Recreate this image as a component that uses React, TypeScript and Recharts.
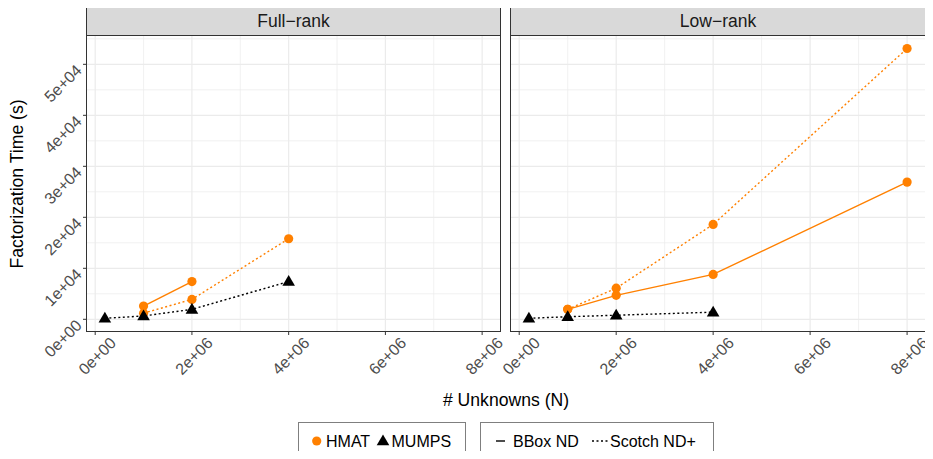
import React from 'react';
import { LineChart, Line, XAxis, YAxis, CartesianGrid } from 'recharts';

// x values (# unknowns)
const unknowns = [2e5, 1e6, 2e6, 4e6, 8e6];

// Full-rank panel
const fullHmatBBox = [null, 2600, 7400, null, null];
const fullHmatScotch = [null, 1200, 3900, 15800, null];
const fullMumpsScotch = [200, 650, 1950, 7400, null];

// Low-rank panel
const lowHmatBBox = [null, 1950, 4700, 8800, 26900];
const lowHmatScotch = [null, 1950, 6100, 18600, 53100];
const lowMumpsScotch = [200, 500, 800, 1400, null];

const xTicks = [0, 2e6, 4e6, 6e6, 8e6];
const xTickLabels = ['0e+00', '2e+06', '4e+06', '6e+06', '8e+06'];
const xMinor = [1e6, 3e6, 5e6, 7e6];
const yTicks = [0, 1e4, 2e4, 3e4, 4e4, 5e4];
const yTickLabels = ['0e+00', '1e+04', '2e+04', '3e+04', '4e+04', '5e+04'];
const yMinor = [5e3, 1.5e4, 2.5e4, 3.5e4, 4.5e4, 5.5e4];

const ORANGE = '#FF8000';
const FONT = '"Liberation Sans", Arial, Helvetica, sans-serif';
const X_DOMAIN = [-190000, 8390000];
const Y_DOMAIN = [-2490, 55750];
const PLOT_TOP = 35;
const PLOT_H = 297;

const XTick = ({ x, y, payload }: any) => {
  const i = xTicks.indexOf(payload.value);
  return (
    <text
      transform={`translate(${x + 2},${y + 19}) rotate(-45)`}
      textAnchor="middle"
      dy="0.35em"
      fontSize={16}
      fill="#4d4d4d"
      fontFamily={FONT}
    >
      {xTickLabels[i]}
    </text>
  );
};

const YTick = ({ x, y, payload }: any) => {
  const i = yTicks.indexOf(payload.value);
  return (
    <text
      transform={`translate(${x - 18},${y + 19}) rotate(-45)`}
      textAnchor="middle"
      dy="0.35em"
      fontSize={16}
      fill="#4d4d4d"
      fontFamily={FONT}
    >
      {yTickLabels[i]}
    </text>
  );
};

const circleDot = (props: any) => {
  const { cx, cy, index } = props;
  if (cx == null || cy == null) return <g key={`c-${index}`} />;
  return <circle key={`c-${index}`} cx={cx} cy={cy} r={4.6} fill={ORANGE} />;
};

const triangleDot = (props: any) => {
  const { cx, cy, index } = props;
  if (cx == null || cy == null) return <g key={`t-${index}`} />;
  return (
    <polygon
      key={`t-${index}`}
      points={`${cx},${cy - 6.5} ${cx - 6.3},${cy + 4.3} ${cx + 6.3},${cy + 4.3}`}
      fill="#000"
    />
  );
};

function Panel({ title, left, width, showY, hmatBBox, hmatScotch, mumpsScotch }: any) {
  const data = unknowns.map((n, i) => ({
    n,
    hmatBBox: hmatBBox[i],
    hmatScotch: hmatScotch[i],
    mumpsScotch: mumpsScotch[i],
  }));
  const yw = showY ? 86 : 0;
  const plotLeft = left + yw;
  const plotW = width - yw;
  return (
    <>
      <div style={{ position: 'absolute', left, top: 0 }}>
        <LineChart
          width={width}
          height={400}
          data={data}
          margin={{ top: PLOT_TOP, right: 0, bottom: 8, left: 0 }}
          style={{ overflow: 'visible' }}
        >
          <CartesianGrid stroke="#ebebeb" strokeWidth={0.7} horizontalValues={yMinor} verticalValues={xMinor} />
          <CartesianGrid stroke="#ebebeb" strokeWidth={1.2} horizontalValues={yTicks} verticalValues={xTicks} />
          <XAxis
            dataKey="n"
            type="number"
            domain={X_DOMAIN}
            ticks={xTicks}
            allowDataOverflow
            height={60}
            axisLine={false}
            tickSize={3}
            tickLine={{ stroke: '#333333' }}
            tick={<XTick />}
            interval={0}
          />
          <YAxis
            type="number"
            domain={Y_DOMAIN}
            ticks={yTicks}
            allowDataOverflow
            hide={!showY}
            width={86}
            axisLine={false}
            tickSize={3}
            tickMargin={2}
            tickLine={{ stroke: '#333333' }}
            tick={<YTick />}
            interval={0}
          />
          <Line dataKey="hmatBBox" stroke={ORANGE} strokeWidth={1.4} dot={circleDot} activeDot={false} isAnimationActive={false} />
          <Line dataKey="hmatScotch" stroke={ORANGE} strokeWidth={1.4} strokeDasharray="2 2.5" dot={circleDot} activeDot={false} isAnimationActive={false} />
          <Line dataKey="mumpsScotch" stroke="#000" strokeWidth={1.4} strokeDasharray="2 2.5" dot={triangleDot} activeDot={false} isAnimationActive={false} />
        </LineChart>
      </div>
      <div
        style={{
          position: 'absolute', left: plotLeft, top: PLOT_TOP, width: plotW, height: PLOT_H,
          border: '1px solid #333333', boxSizing: 'border-box', pointerEvents: 'none',
        }}
      />
      <div
        style={{
          position: 'absolute', left: plotLeft, top: 7, width: plotW, height: 29,
          background: '#d9d9d9', border: '1px solid #333333', boxSizing: 'border-box',
          textAlign: 'center', lineHeight: '27px', fontSize: 17.5, color: '#1a1a1a', fontFamily: FONT,
        }}
      >
        {title}
      </div>
    </>
  );
}

export default function App() {
  return (
    <div style={{ position: 'relative', width: 933, height: 459, overflow: 'hidden', background: '#fff', fontFamily: FONT, margin: -8 }}>
      <style>{'.recharts-surface, .recharts-wrapper { overflow: visible !important; }'}</style>
      <Panel title="Full−rank" left={0} width={501} showY hmatBBox={fullHmatBBox} hmatScotch={fullHmatScotch} mumpsScotch={fullMumpsScotch} />
      <Panel title="Low−rank" left={510} width={416} showY={false} hmatBBox={lowHmatBBox} hmatScotch={lowHmatScotch} mumpsScotch={lowMumpsScotch} />
      <svg width={933} height={459} style={{ position: 'absolute', left: 0, top: 0, pointerEvents: 'none' }}>
        <text transform="translate(23,184) rotate(-90)" textAnchor="middle" fontSize={17.6} fill="#000" fontFamily={FONT}>
          Factorization Time (s)
        </text>
        <text x={506} y={406} textAnchor="middle" fontSize={17.6} fill="#000" fontFamily={FONT}>
          # Unknowns (N)
        </text>
        <rect x={298.5} y={422.5} width={167} height={50} fill="#fff" stroke="#7f7f7f" strokeWidth={1} />
        <circle cx={316.7} cy={441} r={4.6} fill={ORANGE} />
        <text x={326} y={447} fontSize={16} fill="#000" fontFamily={FONT}>HMAT</text>
        <polygon points="383,434.5 376.7,445.3 389.3,445.3" fill="#000" />
        <text x={391.5} y={447} fontSize={16} fill="#000" fontFamily={FONT}>MUMPS</text>
        <rect x={480.5} y={422.5} width={233} height={50} fill="#fff" stroke="#7f7f7f" strokeWidth={1} />
        <line x1={496} x2={505} y1={441} y2={441} stroke="#000" strokeWidth={1.4} />
        <text x={513} y={447} fontSize={16} fill="#000" fontFamily={FONT}>BBox ND</text>
        <line x1={592} x2={608} y1={441} y2={441} stroke="#000" strokeWidth={1.4} strokeDasharray="2 2.5" />
        <text x={610} y={447} fontSize={16} fill="#000" fontFamily={FONT}>Scotch ND+</text>
      </svg>
    </div>
  );
}
